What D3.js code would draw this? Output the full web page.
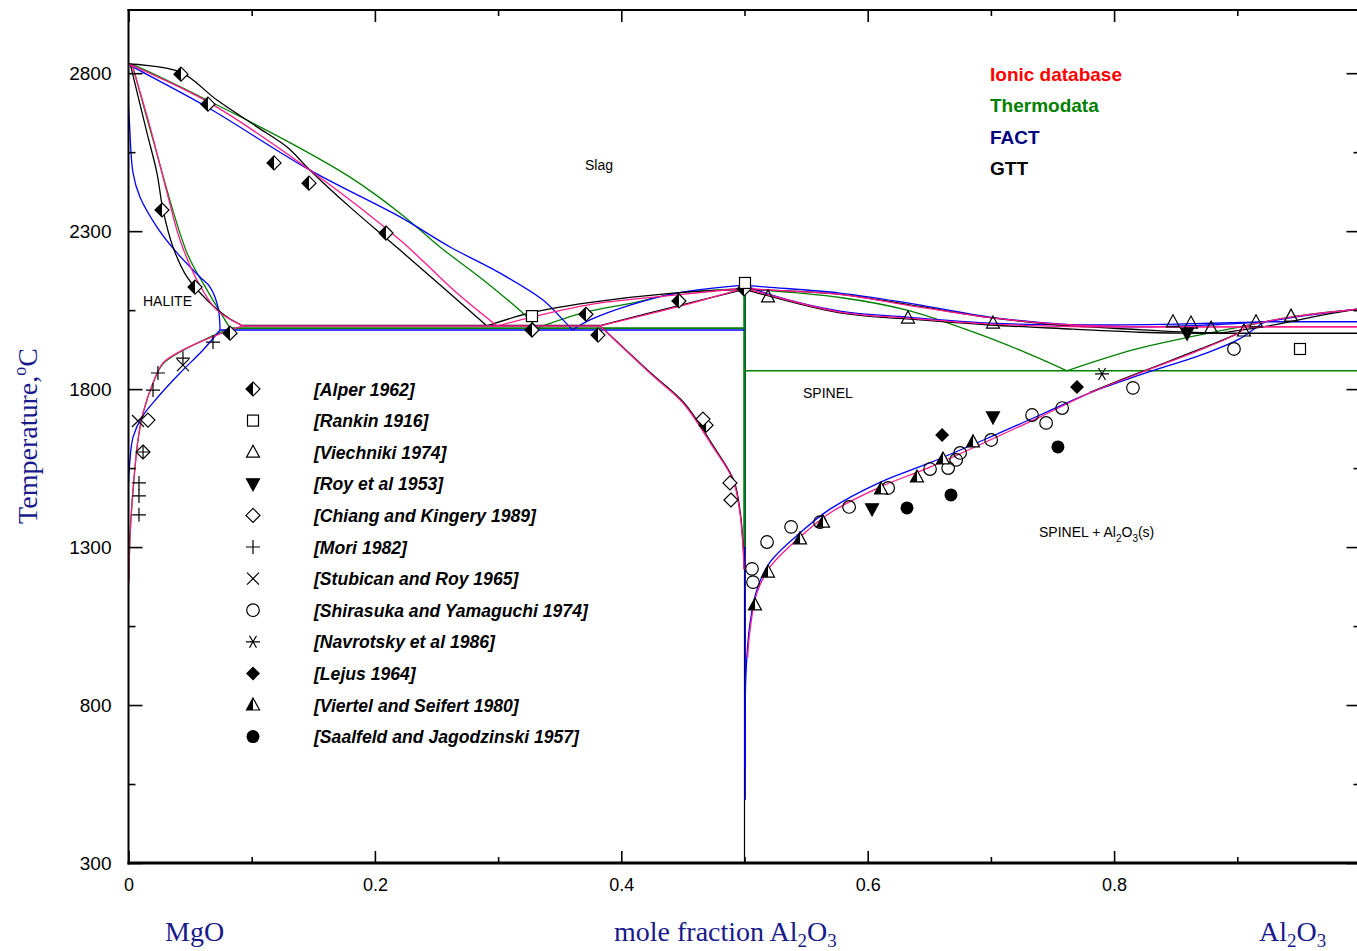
<!DOCTYPE html>
<html><head><meta charset="utf-8">
<script src="https://cdn.jsdelivr.net/npm/d3@7"></script>
<style>body{margin:0;background:#fff;} svg{display:block;}</style>
</head><body>
<script>
// ---------- axes ----------
const xMajorTicks = [0, 0.2, 0.4, 0.6, 0.8];
const xMinorTicks = [0.1, 0.3, 0.5, 0.7, 0.9];
const xTickLabels = ["0", "0.2", "0.4", "0.6", "0.8"];
const yMajorTicks = [300, 800, 1300, 1800, 2300, 2800];
const yMinorTicks = [550, 1050, 1550, 2050, 2550];
const yTickLabels = ["300", "800", "1300", "1800", "2300", "2800"];

// ---------- model legend ----------
const modelNames = ["Ionic database", "Thermodata", "FACT", "GTT"];
const modelTextColors = ["#ff0000", "#008000", "#000080", "#000000"];

// ---------- Ionic database (pink) ----------
const ionicLiqMgO = [[0,2829],[0.0037,2823],[0.0645,2709],[0.1473,2493],[0.2204,2272],[0.2407,2199],[0.2666,2104],[0.2991,2000]];
const ionicSolMgO = [[0.0029,2826],[0.0175,2630],[0.0313,2421],[0.0418,2272],[0.0556,2145],[0.0718,2050],[0.0929,2000]];
const ionicEutL = [[0.0929,2000],[0.3827,2000]];
const ionicSolvMgO = [[0.0929,2000],[0.0824,1987],[0.0442,1924],[0.028,1883],[0.0199,1819],[0.0118,1724],[0.0077,1639],[0.0037,1481],[0.0012,1332],[0.0004,1186]];
const ionicLiqSpL = [[0.2991,2000],[0.3722,2066],[0.4452,2098],[0.5,2120]];
const ionicSolSpL = [[0.3827,2000],[0.4452,2060],[0.5,2120]];
const ionicSolvSpL = [[0.3827,2000],[0.4257,1842],[0.4501,1756],[0.4744,1617],[0.4907,1512],[0.4963,1408],[0.4988,1300],[0.4996,1230]];
const ionicLiqSpR = [[0.5,2120],[0.5183,2114],[0.5775,2100],[0.6319,2066],[0.6993,2026],[0.7666,2003],[0.821,1998],[0.8754,1997],[0.9022,1997]];
const ionicSolSpR = [[0.5,2120],[0.5775,2044],[0.6319,2025],[0.6993,2006],[0.7666,1998],[0.821,1997],[0.9063,1997]];
const ionicEutR = [[0.9063,1997],[1,1997]];
const ionicLiqAl = [[0.9022,1997],[0.9436,2028],[1,2054]];
const ionicSolvSpR = [[0.5025,950],[0.5045,1038],[0.5101,1155],[0.5207,1237],[0.5451,1332],[0.5694,1408],[0.61,1490],[0.6506,1553],[0.6993,1639],[0.7399,1712],[0.7804,1788],[0.821,1851],[0.8754,1933],[0.9022,1981],[0.9063,1997]];

// ---------- Thermodata (green) ----------
const thermoLiqMgO = [[0,2829],[0.0037,2826],[0.0637,2715],[0.1287,2585],[0.1798,2471],[0.2204,2357],[0.2528,2250],[0.291,2136],[0.3235,2028],[0.3316,1993]];
const thermoSolMgO = [[0.0037,2820],[0.0199,2589],[0.0475,2231],[0.0637,2114],[0.0824,1993]];
const thermoEutL = [[0.0824,1993],[0.5,1993]];
const thermoSolvMgO = [[0.0824,1993],[0.045,1924],[0.028,1880],[0.0199,1819],[0.0118,1724],[0.0077,1639],[0.0037,1481],[0.0012,1332],[0.0004,1200]];
const thermoLiqSpL = [[0.3316,1993],[0.3689,2041],[0.4095,2073],[0.4452,2104],[0.5,2117]];
const thermoVert = [[0.5,2117],[0.5,1300]];
const thermoLiqSpR = [[0.5,2117],[0.5775,2090],[0.6319,2050],[0.6855,1981],[0.7293,1914],[0.7618,1858]];
const thermoLiqAl = [[0.7618,1858],[0.8153,1924],[0.8616,1965],[0.9022,1997],[0.9428,2028],[1,2054]];
const thermoEutR = [[0.5,1858],[1,1858]];

// ---------- FACT (blue) ----------
const factLiqMgO = [[0,2829],[0.0037,2820],[0.0637,2693],[0.1473,2493],[0.2204,2345],[0.261,2250],[0.3016,2167],[0.3364,2082],[0.3527,2019],[0.3603,1987]];
const factSolMgO = [[0,2829],[0,2700],[0.0008,2642],[0.0037,2484],[0.0093,2408],[0.0231,2313],[0.0394,2231],[0.058,2155],[0.0662,2123],[0.0726,2060],[0.0743,1987]];
const factEutL = [[0.0743,1987],[0.5,1987]];
const factSolvMgO = [[0.0743,1987],[0.0605,1924],[0.0418,1851],[0.0239,1775],[0.011,1712],[0.0037,1648],[0.0012,1576],[0,1500]];
const factLiqSpL = [[0.3603,1987],[0.3746,2019],[0.4071,2066],[0.4452,2104],[0.5,2129]];
const factVert = [[0.5,2129],[0.5,500]];
const factLiqSpR = [[0.5,2129],[0.5183,2123],[0.5775,2104],[0.6319,2073],[0.6993,2028],[0.7666,2003],[0.821,1997],[0.8754,2003],[0.9225,2013]];
const factSolSpR = [[0.5,2129],[0.52,2100],[0.5775,2047],[0.6319,2028],[0.6993,2009],[0.7666,2003],[0.85,2006],[0.9225,2013]];
const factEutR = [[0.9225,2013],[1,2013]];
const factLiqAl = [[0.9225,2013],[0.96,2035],[1,2054]];
const factSolvSpR = [[0.5004,600],[0.5012,900],[0.5045,1060],[0.5101,1165],[0.5207,1252],[0.5451,1345],[0.5694,1420],[0.61,1505],[0.6506,1567],[0.6993,1648],[0.7399,1718],[0.7804,1788],[0.821,1845],[0.8754,1915],[0.9022,1960],[0.916,1997],[0.9225,2013]];

// ---------- GTT (black) ----------
const gttLiqMgO = [[0,2829],[0.0418,2804],[0.0718,2715],[0.1043,2630],[0.1287,2566],[0.1473,2493],[0.1798,2376],[0.2204,2240],[0.291,2000]];
const gttSolMgO = [[0.0016,2826],[0.015,2611],[0.0231,2484],[0.028,2367],[0.0361,2250],[0.0475,2155],[0.0637,2082],[0.08,2028],[0.0929,2000]];
const gttEutL = [[0.0929,2001],[0.3827,2001]];
const gttLiqSpL = [[0.291,2000],[0.3259,2041],[0.3722,2073],[0.442,2104],[0.5,2116]];
const gttSolSpL = [[0.3827,2001],[0.4452,2063],[0.5,2116]];
const gttSolvSpL = [[0.3827,2001],[0.4265,1842],[0.451,1756],[0.4752,1617],[0.4912,1512],[0.4966,1408],[0.499,1300],[0.4998,1230]];
const gttVert = [[0.5,2116],[0.5,300]];
const gttLiqSpR = [[0.5,2116],[0.5775,2100],[0.6319,2068],[0.6993,2026],[0.7666,2000],[0.821,1988],[0.86,1980],[0.885,1977]];
const gttSolSpR = [[0.5,2116],[0.5775,2041],[0.6319,2022],[0.6993,2003],[0.7666,1990],[0.821,1980],[0.855,1977]];
const gttEutR = [[0.855,1977],[1,1977]];
const gttLiqAl = [[0.885,1977],[0.93,2003],[0.97,2035],[1,2054]];
const gttSolvSpR = [[0.7804,1790],[0.821,1853],[0.8754,1935],[0.9022,1979]];

// ---------- experimental data ----------
const expNames = ["[Alper 1962]","[Rankin 1916]","[Viechniki 1974]","[Roy et al 1953]","[Chiang and Kingery 1989]","[Mori 1982]","[Stubican and Roy 1965]","[Shirasuka and Yamaguchi 1974]","[Navrotsky et al 1986]","[Lejus 1964]","[Viertel and Seifert 1980]","[Saalfeld and Jagodzinski 1957]"];
const expSymbols = ["halfDiamond","square","triUp","triDown","diamond","plus","cross","circle","star","diamondFilled","halfTri","circleFilled"];
const alper = [[0.0426,2797],[0.0645,2702],[0.1181,2516],[0.1465,2452],[0.209,2294],[0.0272,2367],[0.054,2123],[0.0824,1977],[0.3275,1987],[0.3713,2037],[0.3811,1971],[0.4468,2079],[0.4688,1686],[0.4996,2117]];
const rankin = [[0.5004,2136],[0.3275,2031],[0.9509,1927]];
const viechniki = [[0.5191,2092],[0.6327,2025],[0.7017,2009],[0.8478,2013],[0.8624,2009],[0.8787,1993],[0.9054,1984],[0.9152,2013],[0.9436,2031]];
const roy = [[0.8592,1977],[0.7017,1712],[0.6035,1421]];
const chiang = [[0.4663,1705],[0.4882,1503],[0.489,1449],[0.0158,1702],[0.0118,1601]];
const mori = [[0.0239,1851],[0.0199,1797],[0.0686,1949],[0.0085,1503],[0.0085,1462],[0.0085,1402],[0.0118,1601],[0.0442,1898]];
const stubican = [[0.0442,1876],[0.0077,1699]];
const shirasuka = [[0.5061,1231],[0.5069,1189],[0.5183,1316],[0.5378,1364],[0.5613,1379],[0.5849,1427],[0.6166,1487],[0.6506,1547],[0.6653,1550],[0.6718,1576],[0.675,1598],[0.7002,1639],[0.7334,1718],[0.7448,1693],[0.7578,1740],[0.8153,1804],[0.8973,1927]];
const navrotsky = [[0.7902,1848]];
const lejus = [[0.6604,1655],[0.7699,1807]];
const viertel = [[0.5085,1117],[0.5191,1221],[0.5451,1326],[0.5637,1379],[0.6108,1484],[0.64,1522],[0.6611,1579],[0.6855,1633]];
const saalfeld = [[0.6319,1424],[0.6676,1465],[0.7544,1617]];
const expData = [alper, rankin, viechniki, roy, chiang, mori, stubican, shirasuka, navrotsky, lejus, viertel, saalfeld];

// ---------- drawing ----------
const W = 1357, H = 951;
const L = 128.5, R = 1360.5, T = 10, B = 863;
const x = d3.scaleLinear().domain([0, 1]).range([L, R]);
const y = d3.scaleLinear().domain([300, 3000]).range([B, T]);

const svg = d3.select("body").append("svg").attr("width", W).attr("height", H)
  .style("font-family", "Arial, 'Liberation Sans', sans-serif");

svg.append("defs").append("clipPath").attr("id", "clip")
  .append("rect").attr("x", L).attr("y", T).attr("width", R - L).attr("height", B - T);

const plot = svg.append("g").attr("clip-path", "url(#clip)");

const smooth = d3.line().x(d => x(d[0])).y(d => y(d[1])).curve(d3.curveCatmullRom.alpha(0.5));
const straight = d3.line().x(d => x(d[0])).y(d => y(d[1]));

function draw(data, color, width, curved, dx) {
  plot.append("path").attr("d", (curved ? smooth : straight)(data))
    .attr("fill", "none").attr("stroke", color).attr("stroke-width", width)
    .attr("stroke-linejoin", "round")
    .attr("transform", dx ? `translate(${dx},0)` : null);
}

const GREEN = "#008000", BLUE = "#0000ff", BLACK = "#000000", PINK = "#ff1a8c";

// verticals at spinel composition (black under blue under green)
draw(gttVert, BLACK, 1.2, false);
draw(factVert, BLUE, 1.3, false, 0.8);
draw(thermoVert, GREEN, 2.4, false);
// green
[thermoLiqMgO, thermoSolMgO, thermoSolvMgO, thermoLiqSpL, thermoLiqSpR, thermoLiqAl].forEach(d => draw(d, GREEN, 1.3, true));
[thermoEutL, thermoEutR].forEach(d => draw(d, GREEN, 1.6, false));
// blue
[factLiqMgO, factSolMgO, factSolvMgO, factLiqSpL, factLiqSpR, factSolSpR, factLiqAl, factSolvSpR].forEach(d => draw(d, BLUE, 1.3, true));
[factEutL, factEutR].forEach(d => draw(d, BLUE, 1.6, false));
// black
[gttLiqMgO, gttSolMgO, gttLiqSpL, gttSolSpL, gttSolvSpL, gttLiqSpR, gttSolSpR, gttLiqAl, gttSolvSpR].forEach(d => draw(d, BLACK, 1.3, true));
[gttEutL, gttEutR].forEach(d => draw(d, BLACK, 1.6, false));
// pink
[ionicLiqMgO, ionicSolMgO, ionicSolvMgO, ionicLiqSpL, ionicSolSpL, ionicSolvSpL, ionicLiqSpR, ionicSolSpR, ionicLiqAl, ionicSolvSpR].forEach(d => draw(d, PINK, 1.3, true));
[ionicEutL, ionicEutR].forEach(d => draw(d, PINK, 1.6, false));

// ---------- markers ----------
function marker(g, type, cx, cy) {
  const sw = 1.2;
  if (type === "halfDiamond") {
    const r = 7;
    g.append("path").attr("d", `M${cx},${cy-r}L${cx+r},${cy}L${cx},${cy+r}L${cx-r},${cy}Z`).attr("fill", "#fff").attr("stroke", "#000").attr("stroke-width", sw);
    g.append("path").attr("d", `M${cx},${cy-r}L${cx-r},${cy}L${cx},${cy+r}Z`).attr("fill", "#000");
  } else if (type === "square") {
    const s = 5.5;
    g.append("rect").attr("x", cx - s).attr("y", cy - s).attr("width", 2*s).attr("height", 2*s).attr("fill", "#fff").attr("stroke", "#000").attr("stroke-width", sw);
  } else if (type === "triUp") {
    g.append("path").attr("d", `M${cx},${cy-7}L${cx+6.5},${cy+5}L${cx-6.5},${cy+5}Z`).attr("fill", "none").attr("stroke", "#000").attr("stroke-width", sw);
  } else if (type === "triDown") {
    g.append("path").attr("d", `M${cx},${cy+7}L${cx+6.5},${cy-5}L${cx-6.5},${cy-5}Z`).attr("fill", "#000").attr("stroke", "#000").attr("stroke-width", sw);
  } else if (type === "diamond") {
    const r = 7;
    g.append("path").attr("d", `M${cx},${cy-r}L${cx+r},${cy}L${cx},${cy+r}L${cx-r},${cy}Z`).attr("fill", "#fff").attr("stroke", "#000").attr("stroke-width", sw);
  } else if (type === "diamondFilled") {
    const r = 7;
    g.append("path").attr("d", `M${cx},${cy-r}L${cx+r},${cy}L${cx},${cy+r}L${cx-r},${cy}Z`).attr("fill", "#000");
  } else if (type === "plus") {
    g.append("path").attr("d", `M${cx-7},${cy}H${cx+7}M${cx},${cy-7}V${cy+7}`).attr("stroke", "#000").attr("stroke-width", sw);
  } else if (type === "cross") {
    g.append("path").attr("d", `M${cx-6},${cy-6}L${cx+6},${cy+6}M${cx-6},${cy+6}L${cx+6},${cy-6}`).attr("stroke", "#000").attr("stroke-width", sw);
  } else if (type === "circle") {
    g.append("circle").attr("cx", cx).attr("cy", cy).attr("r", 6.3).attr("fill", "none").attr("stroke", "#000").attr("stroke-width", sw);
  } else if (type === "circleFilled") {
    g.append("circle").attr("cx", cx).attr("cy", cy).attr("r", 6.5).attr("fill", "#000");
  } else if (type === "star") {
    g.append("path").attr("d", `M${cx-7},${cy}H${cx+7}M${cx-3.5},${cy-6}L${cx+3.5},${cy+6}M${cx-3.5},${cy+6}L${cx+3.5},${cy-6}`).attr("stroke", "#000").attr("stroke-width", sw);
  } else if (type === "halfTri") {
    g.append("path").attr("d", `M${cx},${cy-7}L${cx+6.5},${cy+5}L${cx-6.5},${cy+5}Z`).attr("fill", "#fff").attr("stroke", "#000").attr("stroke-width", sw);
    g.append("path").attr("d", `M${cx},${cy-7}L${cx},${cy+5}L${cx-6.5},${cy+5}Z`).attr("fill", "#000");
  }
}

const mk = svg.append("g").attr("clip-path", "url(#clip)");
expData.forEach((arr, i) => {
  arr.forEach(d => marker(mk, expSymbols[i], x(d[0]), y(d[1])));
});

// ---------- axes ----------
const axG = svg.append("g");
function styleAxis(g) { g.select(".domain").remove(); g.selectAll("line").attr("stroke", "#000").attr("stroke-width", 1.6); }

axG.append("g").attr("transform", `translate(${L},0)`)
  .call(d3.axisLeft(y).tickValues(yMajorTicks).tickSize(-14).tickPadding(17).tickFormat((d, i) => yTickLabels[i]))
  .call(styleAxis)
  .selectAll("text").attr("font-size", 19).attr("font-family", "Arial, 'Liberation Sans', sans-serif").attr("fill", "#000");
axG.append("g").attr("transform", `translate(${L},0)`)
  .call(d3.axisLeft(y).tickValues(yMinorTicks).tickSize(-7).tickFormat(""))
  .call(styleAxis);
axG.append("g").attr("transform", `translate(${R},0)`)
  .call(d3.axisRight(y).tickValues(yMajorTicks).tickSize(-14).tickFormat(""))
  .call(styleAxis);
axG.append("g").attr("transform", `translate(${R},0)`)
  .call(d3.axisRight(y).tickValues(yMinorTicks).tickSize(-7).tickFormat(""))
  .call(styleAxis);

axG.append("g").attr("transform", `translate(0,${B})`)
  .call(d3.axisBottom(x).tickValues(xMajorTicks).tickSize(-12).tickPadding(15).tickFormat((d, i) => xTickLabels[i]))
  .call(styleAxis)
  .selectAll("text").attr("font-size", 18).attr("font-family", "Arial, 'Liberation Sans', sans-serif").attr("fill", "#000");
axG.append("g").attr("transform", `translate(0,${B})`)
  .call(d3.axisBottom(x).tickValues(xMinorTicks).tickSize(-6).tickFormat(""))
  .call(styleAxis);
axG.append("g").attr("transform", `translate(0,${T})`)
  .call(d3.axisTop(x).tickValues(xMajorTicks).tickSize(-12).tickFormat(""))
  .call(styleAxis);
axG.append("g").attr("transform", `translate(0,${T})`)
  .call(d3.axisTop(x).tickValues(xMinorTicks).tickSize(-6).tickFormat(""))
  .call(styleAxis);

// frame
svg.append("line").attr("x1", L).attr("x2", L).attr("y1", T - 1).attr("y2", B + 1.5).attr("stroke", "#000").attr("stroke-width", 2);
svg.append("line").attr("x1", L - 1).attr("x2", R).attr("y1", B).attr("y2", B).attr("stroke", "#000").attr("stroke-width", 3);
svg.append("line").attr("x1", L - 1).attr("x2", R).attr("y1", T).attr("y2", T).attr("stroke", "#000").attr("stroke-width", 2);
svg.append("line").attr("x1", R).attr("x2", R).attr("y1", T).attr("y2", B).attr("stroke", "#000").attr("stroke-width", 2);

// ---------- axis titles ----------
const NAVY = "#1a1a8c";
const serif = "'Times New Roman', 'Liberation Serif', serif";
const yt = svg.append("text").attr("transform", "translate(37,436) rotate(-90)").attr("text-anchor", "middle")
  .attr("font-family", serif).attr("font-size", 28).attr("fill", NAVY);
yt.append("tspan").text("Temperature,");
yt.append("tspan").attr("dy", -11).attr("font-size", 18).text("o");
yt.append("tspan").attr("dy", 11).text("C");

svg.append("text").attr("x", 165).attr("y", 941).attr("font-family", serif).attr("font-size", 28).attr("fill", NAVY).text("MgO");
const xt = svg.append("text").attr("x", 614).attr("y", 941).attr("font-family", serif).attr("font-size", 28).attr("fill", NAVY);
xt.append("tspan").text("mole fraction Al");
xt.append("tspan").attr("dy", 6).attr("font-size", 19).text("2");
xt.append("tspan").attr("dy", -6).text("O");
xt.append("tspan").attr("dy", 6).attr("font-size", 19).text("3");
const xr = svg.append("text").attr("x", 1259).attr("y", 941).attr("font-family", serif).attr("font-size", 28).attr("fill", NAVY);
xr.append("tspan").text("Al");
xr.append("tspan").attr("dy", 6).attr("font-size", 19).text("2");
xr.append("tspan").attr("dy", -6).text("O");
xr.append("tspan").attr("dy", 6).attr("font-size", 19).text("3");

// ---------- region labels ----------
svg.append("text").attr("x", 599).attr("y", 170).attr("text-anchor", "middle").attr("font-size", 14).text("Slag");
svg.append("text").attr("x", 143).attr("y", 306).attr("font-size", 14).text("HALITE");
svg.append("text").attr("x", 803).attr("y", 398).attr("font-size", 14).text("SPINEL");
const sp = svg.append("text").attr("x", 1039).attr("y", 537).attr("font-size", 14);
sp.append("tspan").text("SPINEL + Al");
sp.append("tspan").attr("dy", 5).attr("font-size", 10).text("2");
sp.append("tspan").attr("dy", -5).text("O");
sp.append("tspan").attr("dy", 5).attr("font-size", 10).text("3");
sp.append("tspan").attr("dy", -5).text("(s)");

// ---------- model legend ----------
modelNames.forEach((n, i) => {
  svg.append("text").attr("x", 990).attr("y", 81 + i * 31.3).attr("font-size", 19).attr("font-weight", "bold")
    .attr("fill", modelTextColors[i]).text(n);
});

// ---------- marker legend ----------
expNames.forEach((n, i) => {
  const cy = 389 + i * 31.6;
  marker(svg, expSymbols[i], 253, cy);
  svg.append("text").attr("x", 314).attr("y", cy + 6.5).attr("font-size", 17.6).attr("font-weight", "bold")
    .attr("font-style", "italic").text(n);
});
</script>
</body></html>
